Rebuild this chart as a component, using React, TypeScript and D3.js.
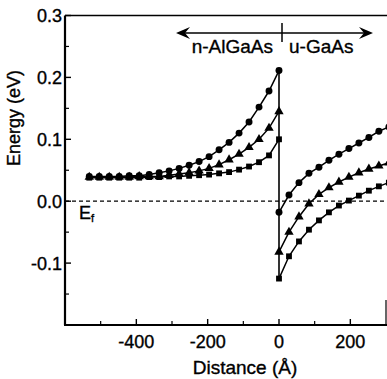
import React from "react";
import * as d3 from "d3";

const leftX = [-532, -504, -476, -448, -420, -392, -364, -336, -308, -280, -252, -224, -196, -168, -140, -112, -84, -56, -28, 0];
const leftCircles = [0.040, 0.040, 0.040, 0.040, 0.041, 0.041, 0.043, 0.046, 0.049, 0.053, 0.058, 0.064, 0.072, 0.083, 0.095, 0.110, 0.128, 0.152, 0.178, 0.211];
const leftTriangles = [0.039, 0.039, 0.039, 0.039, 0.039, 0.040, 0.040, 0.040, 0.042, 0.044, 0.046, 0.049, 0.053, 0.059, 0.067, 0.076, 0.087, 0.100, 0.118, 0.145];
const leftSquares = [0.038, 0.038, 0.038, 0.038, 0.038, 0.038, 0.039, 0.039, 0.040, 0.040, 0.041, 0.042, 0.043, 0.045, 0.047, 0.051, 0.056, 0.063, 0.074, 0.100];

const rightX = [0, 28, 56, 84, 112, 140, 168, 196, 224, 252, 280, 308];
const rightCircles = [-0.018, 0.010, 0.030, 0.045, 0.055, 0.066, 0.076, 0.085, 0.094, 0.103, 0.113, 0.120];
const rightTriangles = [-0.082, -0.050, -0.025, -0.004, 0.011, 0.022, 0.031, 0.039, 0.046, 0.052, 0.057, 0.062];
const rightSquares = [-0.125, -0.089, -0.065, -0.046, -0.031, -0.018, -0.007, 0.001, 0.009, 0.017, 0.024, 0.030];

const xMajor = [-400, -200, 0, 200];
const xMinor = [-500, -300, -100, 100];
const yMajor = [0.3, 0.2, 0.1, 0.0, -0.1];
const yMinor = [0.25, 0.15, 0.05, -0.05, -0.15];

const W = 387;
const H = 379;
const FONT = "'Liberation Sans', Arial, Helvetica, sans-serif";
const TS = { fill: "#000", stroke: "#000", strokeWidth: 0.35 };

export default function App() {
  const x = d3.scaleLinear().domain([-600, 300]).range([65, 386]);
  const y = d3.scaleLinear().domain([-0.2, 0.3]).range([325, 15.5]);
  const line = d3
    .line<[number, number]>()
    .x((d) => x(d[0]))
    .y((d) => y(d[1]));

  const series = [
    { xs: leftX, ys: leftCircles, shape: "circle" },
    { xs: leftX, ys: leftTriangles, shape: "triangle" },
    { xs: leftX, ys: leftSquares, shape: "square" },
    { xs: rightX, ys: rightCircles, shape: "circle" },
    { xs: rightX, ys: rightTriangles, shape: "triangle" },
    { xs: rightX, ys: rightSquares, shape: "square" },
  ];

  const sym = (shape: string) => {
    if (shape === "circle") return d3.symbol(d3.symbolCircle, 38)();
    if (shape === "triangle") return d3.symbol(d3.symbolTriangle, 38)();
    return d3.symbol(d3.symbolSquare, 34)();
  };

  const x0 = x(0);
  const yTopV = y(d3.max(leftCircles) as number);
  const yBotV = y(d3.min(rightSquares) as number);

  const arrowY = 33;
  const aL = 176;
  const aR = 373;
  const divX = 282;

  return (
    <svg
      width={W}
      height={H}
      style={{ position: "absolute", left: 0, top: 0, background: "#fff" }}
      fontFamily={FONT}
    >
      <rect width={W} height={H} fill="#fff" />
      {/* frame */}
      <line x1={65} y1={15.5} x2={65} y2={325} stroke="#000" strokeWidth={2.2} />
      <line x1={64} y1={325} x2={387} y2={325} stroke="#000" strokeWidth={2} />
      <line x1={65} y1={15.5} x2={387} y2={15.5} stroke="#000" strokeWidth={1.6} />
      <line x1={386} y1={300} x2={386} y2={325} stroke="#000" strokeWidth={1.2} />

      {/* y ticks */}
      {yMajor.map((v) => (
        <g key={"ym" + v}>
          <line x1={65} x2={71} y1={y(v)} y2={y(v)} stroke="#000" strokeWidth={1.4} />
          <text x={62} y={y(v)} dy="0.36em" textAnchor="end" fontSize={18} {...TS}>
            {v.toFixed(1)}
          </text>
        </g>
      ))}
      {yMinor.map((v) => (
        <line key={"yn" + v} x1={65} x2={69} y1={y(v)} y2={y(v)} stroke="#000" strokeWidth={1.2} />
      ))}

      {/* x ticks */}
      {xMajor.map((v) => (
        <g key={"xm" + v}>
          <line x1={x(v)} x2={x(v)} y1={325} y2={319} stroke="#000" strokeWidth={1.4} />
          <text x={x(v)} y={348} textAnchor="middle" fontSize={18} {...TS}>
            {v}
          </text>
        </g>
      ))}
      {xMinor.map((v) => (
        <line key={"xn" + v} x1={x(v)} x2={x(v)} y1={325} y2={321} stroke="#000" strokeWidth={1.2} />
      ))}

      {/* axis titles */}
      <text x={245} y={374} textAnchor="middle" fontSize={19} {...TS}>
        Distance (Å)
      </text>
      <text transform={`translate(20,118) rotate(-90)`} textAnchor="middle" fontSize={18} {...TS}>
        Energy (eV)
      </text>

      {/* Fermi level */}
      <line
        x1={65}
        x2={387}
        y1={y(0)}
        y2={y(0)}
        stroke="#000"
        strokeWidth={1.3}
        strokeDasharray="4 3"
      />
      <text x={79} y={219} fontSize={18} {...TS}>
        E
        <tspan fontSize={11} dy={3}>
          f
        </tspan>
      </text>

      {/* region arrow */}
      <line x1={aL + 4} x2={aR - 4} y1={arrowY} y2={arrowY} stroke="#000" strokeWidth={1.5} />
      <path
        d={`M${aL},${arrowY} L${aL + 14},${arrowY - 6} L${aL + 9},${arrowY} L${aL + 14},${arrowY + 6} Z`}
        fill="#000"
      />
      <path
        d={`M${aR},${arrowY} L${aR - 14},${arrowY - 6} L${aR - 9},${arrowY} L${aR - 14},${arrowY + 6} Z`}
        fill="#000"
      />
      <line x1={divX} x2={divX} y1={23} y2={42} stroke="#000" strokeWidth={1.5} />
      <text x={273} y={53} textAnchor="end" fontSize={19} {...TS}>
        n-AlGaAs
      </text>
      <text x={289} y={53} textAnchor="start" fontSize={19} {...TS}>
        u-GaAs
      </text>

      {/* interface vertical line */}
      <line x1={x0} x2={x0} y1={yTopV} y2={yBotV} stroke="#000" strokeWidth={1.6} />

      {/* data */}
      <defs>
        <clipPath id="plotclip">
          <rect x={65} y={15} width={322} height={310} />
        </clipPath>
      </defs>
      <g clipPath="url(#plotclip)">
        {series.map((s, i) => {
          const pts: [number, number][] = s.xs.map((xv, j) => [xv, s.ys[j]]);
          return (
            <g key={i}>
              <path d={line(pts) || ""} fill="none" stroke="#000" strokeWidth={1.5} />
              {pts.map((p, j) => (
                <path
                  key={j}
                  d={sym(s.shape) || ""}
                  transform={`translate(${x(p[0])},${y(p[1])})`}
                  fill="#000"
                />
              ))}
            </g>
          );
        })}
      </g>
    </svg>
  );
}
